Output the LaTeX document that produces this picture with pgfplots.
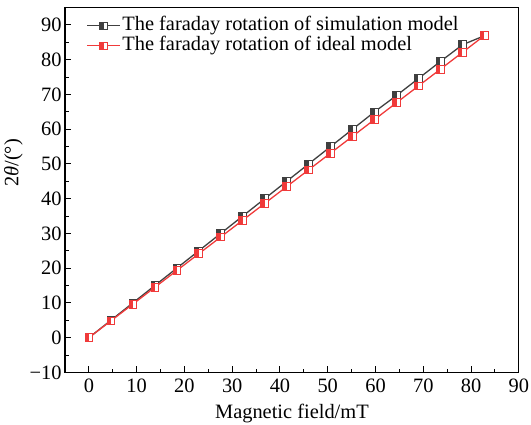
\documentclass[border={4bp 2bp 2bp 7bp}]{standalone}
\usepackage{fontspec}
\setmainfont{Liberation Serif}
\usepackage{pgfplots}
\pgfplotsset{compat=1.18}
\definecolor{simc}{HTML}{404040}
\definecolor{idc}{HTML}{F03A3A}
\pgfdeclareplotmark{hsq}{%
  \begin{pgfscope}
    \pgfsetfillcolor{white}
    \pgfpathrectangle{\pgfqpoint{-\pgfplotmarksize}{-\pgfplotmarksize}}{\pgfqpoint{2\pgfplotmarksize}{2\pgfplotmarksize}}
    \pgfusepathqfill
  \end{pgfscope}
  \pgfpathrectangle{\pgfqpoint{-\pgfplotmarksize}{-\pgfplotmarksize}}{\pgfqpoint{\pgfplotmarksize}{2\pgfplotmarksize}}
  \pgfusepathqfill
  \pgfpathrectangle{\pgfqpoint{-\pgfplotmarksize}{-\pgfplotmarksize}}{\pgfqpoint{2\pgfplotmarksize}{2\pgfplotmarksize}}
  \pgfusepathqstroke
}
\begin{document}
\begin{tikzpicture}
\begin{axis}[
  scale only axis,
  width=454bp, height=365bp,
  xmin=-5, xmax=90, ymin=-10, ymax=95,
  xtick={0,10,...,90}, ytick={-10,0,...,90},
  yticklabels={−10,0,10,20,30,40,50,60,70,80,90},
  minor x tick num=1, minor y tick num=1,
  xtick pos=left, ytick pos=left,
  tick align=inside,
  major tick length=6bp, minor tick length=3.5bp,
  every tick/.style={black, line width=1pt},
  axis line style={black, line width=1.2pt},
  /pgf/number format/assume math mode=true,
  ticklabel style={font=\fontsize{20.5}{22}\selectfont},
  xticklabel style={inner xsep=0pt, yshift=-3bp},
  label style={font=\fontsize{20.5}{22}\selectfont, inner sep=0pt},
  xlabel={Magnetic field/mT},
  ylabel={2\textit{θ}/(°)},
  xlabel style={at={(axis description cs:0.5,-0.125)}, anchor=base},
  ylabel style={at={(axis description cs:-0.114,0.574)}, anchor=center},
  legend style={at={(axis description cs:0.047,0.978)}, anchor=north west, draw=none, fill=none,
    font=\fontsize{20.5}{22}\selectfont, inner sep=0pt,
    nodes={inner sep=1.5bp, text height=13bp, text depth=4bp}},
  legend cell align=left,
  legend image code/.code={
    \draw[#1] (0bp,0bp) -- (33bp,0bp);
    \draw[#1,only marks] plot coordinates {(16.5bp,0bp)};
  },
]
\addplot[simc, line width=1.3pt, mark=hsq, mark size=3.9pt,
  mark options={solid, fill=simc, line width=0.8pt}] coordinates {
(0,0) (4.6,5) (9.2,10) (13.8,15) (18.4,20) (23,25) (27.6,30) (32.2,35)
(36.8,40) (41.4,45) (46,50) (50.6,55) (55.2,60) (59.8,65) (64.4,69.7)
(69,74.6) (73.6,79.5) (78.2,84.3) (82.8,86.9)
};
\addlegendentry{The faraday rotation of simulation model}
\addplot[idc, line width=1.3pt, mark=hsq, mark size=3.9pt,
  mark options={solid, fill=idc, line width=0.8pt}] coordinates {
(0,0) (4.6,4.83) (9.2,9.66) (13.8,14.49) (18.4,19.32) (23,24.15) (27.6,28.98)
(32.2,33.81) (36.8,38.64) (41.4,43.47) (46,48.3) (50.6,53.13) (55.2,57.96)
(59.8,62.79) (64.4,67.62) (69,72.45) (73.6,77.28) (78.2,82.11) (82.8,86.94)
};
\addlegendentry{The faraday rotation of ideal model}
\end{axis}
\end{tikzpicture}
\end{document}
